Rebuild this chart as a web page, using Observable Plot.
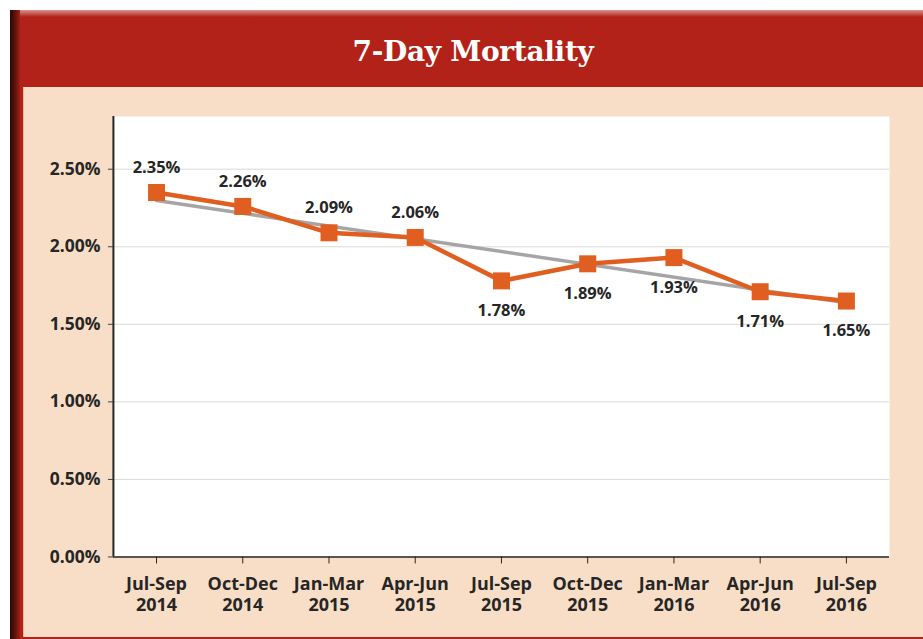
<!DOCTYPE html>
<html>
<head>
<meta charset="utf-8">
<script src="https://cdn.jsdelivr.net/npm/d3@7"></script>
<script src="https://cdn.jsdelivr.net/npm/@observablehq/plot@0.6"></script>
<style>
  html, body { margin: 0; padding: 0; background: #ffffff; }
  body { width: 923px; height: 639px; overflow: hidden; position: relative; }
  #frame { position: absolute; left: 10px; top: 10px; width: 913px; height: 629px; background: #B22218; }
  #edge { position: absolute; left: 0; top: 0; width: 10px; height: 100%;
          background: linear-gradient(to right, #2a0604, #5c120b 50%, #a11f15); }
  #topshade { position: absolute; left: 10px; top: 0; right: 0; height: 7px;
          background: linear-gradient(to bottom, #d8938b, #B22218); }
  #title { position: absolute; left: 0; top: 3px; width: 926px; height: 77px; line-height: 77px;
          text-align: center; color: #ffffff; font-family: "DejaVu Serif", serif; font-weight: bold;
          font-size: 28px; letter-spacing: -0.3px; }
  #panel { position: absolute; left: 13px; top: 77px; width: 900px; height: 550px; background: #F9DEC7;
          border-left: 1px solid #f2b7a3; box-sizing: border-box; }
  #panel svg { position: absolute; left: -1px; top: 0; }
</style>
</head>
<body>
<div id="frame">
  <div id="topshade"></div>
  <div id="edge"></div>
  <div id="title">7-Day Mortality</div>
  <div id="panel"></div>
</div>
<script>
const quarters = ["Jul-Sep","Oct-Dec","Jan-Mar","Apr-Jun","Jul-Sep","Oct-Dec","Jan-Mar","Apr-Jun","Jul-Sep"];
const years = ["2014","2014","2015","2015","2015","2015","2016","2016","2016"];
const mortality = [2.35, 2.26, 2.09, 2.06, 1.78, 1.89, 1.93, 1.71, 1.65];
const yTicks = [0, 0.5, 1, 1.5, 2, 2.5];

const data = mortality.map((v, i) => ({i, v, label: v.toFixed(2) + "%"}));
const fmt = d => d.toFixed(2) + "%";

const chart = Plot.plot({
  width: 900,
  height: 550,
  marginLeft: 90,
  marginRight: 33,
  marginTop: 29,
  marginBottom: 80,
  style: {background: "transparent", fontFamily: "'Open Sans', sans-serif", fontWeight: "bold", color: "#262626", overflow: "visible"},
  x: {domain: [-0.5, 8.5], label: null},
  y: {domain: [0, 2.84], label: null},
  marks: [
    Plot.frame({fill: "#ffffff", stroke: "none"}),
    Plot.gridY(yTicks, {stroke: "#d9d9d9", strokeOpacity: 1, strokeWidth: 1}),
    Plot.axisY(yTicks, {tickFormat: fmt, tickSize: 5, tickPadding: 8, fontSize: 17.5, stroke: "#404040", label: null}),
    Plot.axisX(d3.range(quarters.length), {tickFormat: i => quarters[i] + "\n" + years[i], tickSize: 7, tickPadding: 10, fontSize: 18, lineHeight: 1.22, stroke: "#262626", label: null}),
    Plot.ruleX([-0.5], {stroke: "#262626", strokeWidth: 2}),
    Plot.ruleY([0], {stroke: "#262626", strokeWidth: 1.5}),
    Plot.linearRegressionY(data, {x: "i", y: "v", stroke: "#a5a5a5", strokeWidth: 3.5, ci: 0}),
    Plot.line(data, {x: "i", y: "v", stroke: "#e05e1f", strokeWidth: 4.5}),
    Plot.dot(data, {x: "i", y: "v", symbol: "square", r: 9.6, fill: "#e05e1f", stroke: "none"}),
    Plot.text(data.filter(d => d.i < 4), {x: "i", y: "v", text: "label", dy: -25, fontSize: 16.5, fill: "#262626"}),
    Plot.text(data.filter(d => d.i >= 4), {x: "i", y: "v", text: "label", dy: 30, fontSize: 16.5, fill: "#262626"})
  ]
});
document.getElementById("panel").appendChild(chart);
</script>
</body>
</html>
